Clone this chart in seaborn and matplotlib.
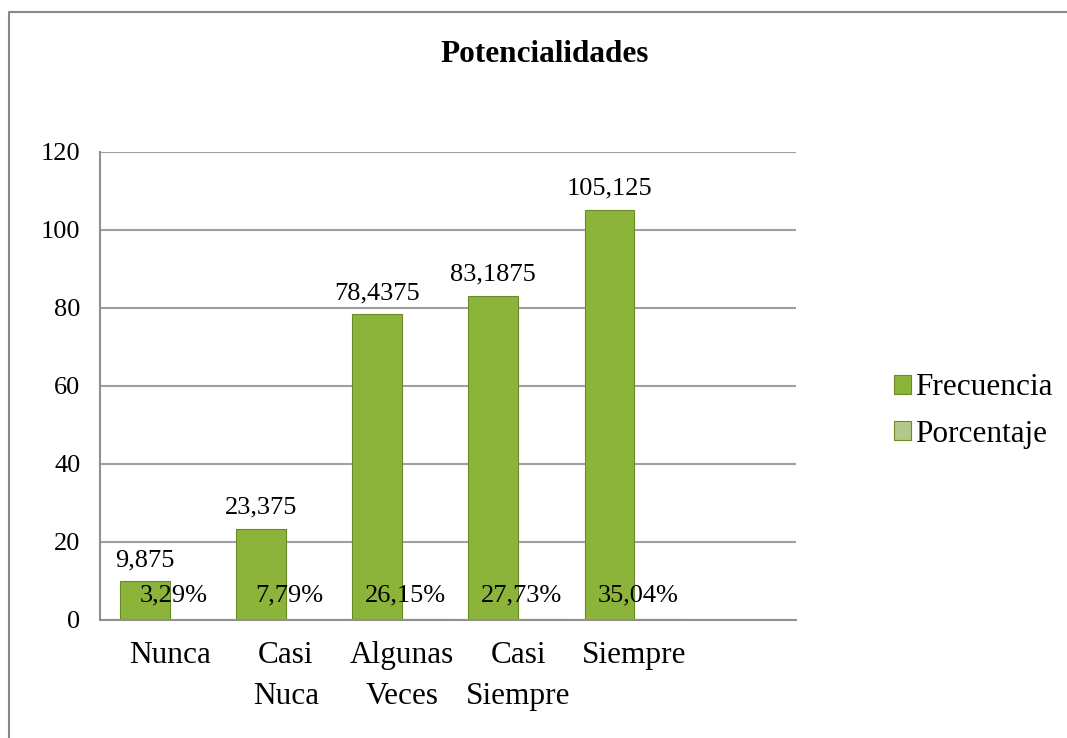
import pandas as pd
import seaborn as sns
import matplotlib.pyplot as plt
from matplotlib.lines import Line2D

# data
categorias = ["Nunca", "Casi\nNuca", "Algunas\nVeces", "Casi\nSiempre", "Siempre"]
frecuencia = [9.875, 23.375, 78.4375, 83.1875, 105.125]
porcentaje = [0.0329, 0.0779, 0.2615, 0.2773, 0.3504]
series = ["Frecuencia", "Porcentaje"]
y_ticks = [0, 20, 40, 60, 80, 100, 120]

df = pd.DataFrame({
    "categoria": categorias * 2,
    "serie": [series[0]] * len(categorias) + [series[1]] * len(categorias),
    "valor": frecuencia + porcentaje,
})

sns.set_style("white")
plt.rcParams["font.family"] = ["Liberation Serif", "DejaVu Serif"]
plt.rcParams["text.color"] = "black"
plt.rcParams["xtick.color"] = "black"
plt.rcParams["ytick.color"] = "black"

fig = plt.figure(figsize=(10.67, 7.38), dpi=100)
ax = fig.add_axes([100 / 1067, 1 - 620 / 738, 696 / 1067, 468 / 738])

colores = {"Frecuencia": "#8CB43A", "Porcentaje": "#B4C88A"}
sns.barplot(data=df, x="categoria", y="valor", hue="serie", order=categorias,
            hue_order=series, palette=colores, saturation=1, width=0.86,
            dodge=True, edgecolor="#6A8A28", linewidth=0.8, ax=ax)

ax.set_xlim(-0.6, 5.39)
ax.set_ylim(0, 120)
ax.set_yticks(y_ticks)
ax.set_xlabel("")
ax.set_ylabel("")
ax.grid(axis="y", color="#A0A0A0", linewidth=1.5)
ax.set_axisbelow(True)
for s in ["top", "right"]:
    ax.spines[s].set_visible(False)
for s in ["left", "bottom"]:
    ax.spines[s].set_color("#909090")
    ax.spines[s].set_linewidth(1.5)
ax.tick_params(axis="y", length=0, pad=14, labelsize=19)
ax.tick_params(axis="x", length=0, pad=15, labelsize=22.5)
for t in ax.get_xticklabels():
    t.set_linespacing(1.55)

# value labels
for i, v in enumerate(frecuencia):
    ax.text(i - 0.215, v + 2.6, str(v).replace(".", ","), ha="center",
            va="bottom", fontsize=19)
for i, p in enumerate(porcentaje):
    ax.text(i + 0.03, 6.2, "{:.2f}%".format(p * 100).replace(".", ","),
            ha="center", va="center", fontsize=19)

ax.legend(loc="center left", bbox_to_anchor=(878 / 1067, 1 - 411 / 738),
          bbox_transform=fig.transFigure, frameon=False, fontsize=22.5,
          handlelength=0.55, handleheight=0.55, handletextpad=0.15,
          labelspacing=0.55, borderpad=0)

fig.text(545 / 1067, 1 - 54 / 738, "Potencialidades", ha="center", va="center",
         fontsize=22.5, fontweight="bold")

# outer chart frame (only left and top edges visible)
fig.add_artist(Line2D([9 / 1067, 9 / 1067, 1.0], [0.0, 1 - 12 / 738, 1 - 12 / 738],
                      transform=fig.transFigure, color="#888888", linewidth=1.5))

fig.savefig("out.png", dpi=100)
